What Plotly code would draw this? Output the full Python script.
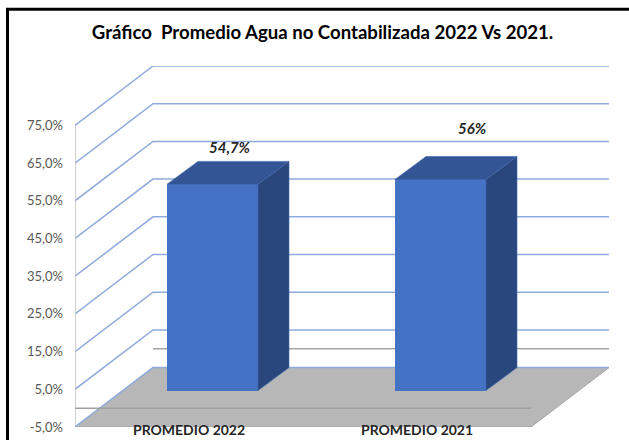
import plotly.graph_objects as go

title = "Gráfico  Promedio Agua no Contabilizada 2022 Vs 2021."
categories = ["PROMEDIO 2022", "PROMEDIO 2021"]
values = [54.7, 56.0]
value_labels = ["54,7%", "56%"]
tick_values = [-5, 5, 15, 25, 35, 45, 55, 65, 75]
tick_labels = ["-5,0%", "5,0%", "15,0%", "25,0%", "35,0%", "45,0%", "55,0%", "65,0%", "75,0%"]

W, H = 629, 440
L, R, T, B = 75, 609, 65.7, 427.2
PX_PER_UNIT = 37.75 / 10
PX_PER_CAT = 228.0
DX = 78 / PX_PER_CAT      # wall depth in category units
DY = 59.5 / PX_PER_UNIT   # wall depth in value units
BAR_W = 91 / PX_PER_CAT
BAR_DX = 31 / PX_PER_CAT
BAR_DY = 23 / PX_PER_UNIT
BAR_SHIFT_X = 23.5 / PX_PER_CAT
BAR_BASE = -5 + 36.5 / PX_PER_UNIT
YMIN, YMAX = -5, -5 + (B - T) / PX_PER_UNIT
XMAX = (R - L) / PX_PER_CAT
FRONT_R = 2.0

BLUE = "#8faadc"
GREY = "#b7b7b7"
LINE_GREY = "#a6a6a6"

shapes = []


def seg(xs, ys, color, width=1.5):
    d = "M " + " L ".join(f"{x},{y}" for x, y in zip(xs, ys))
    shapes.append(dict(type="path", path=d, xref="x", yref="y", layer="below",
                       line=dict(color=color, width=width)))


# gridlines on the side wall and the back wall
for v in tick_values[1:]:
    seg([0, DX, FRONT_R + DX], [v, v + DY, v + DY], BLUE)
seg([DX, FRONT_R + DX], [DY, DY], LINE_GREY)

# value axis
seg([0, 0], [tick_values[0], tick_values[-1]], "#bfbfbf", 1.5)

# floor
shapes.append(dict(type="path", xref="x", yref="y", layer="below",
                   path=f"M 0,{YMIN} L {DX},{YMIN + DY} L {FRONT_R + DX},{YMIN + DY} L {FRONT_R},{YMIN} Z",
                   fillcolor=GREY, line=dict(width=0)))
seg([0, DX, FRONT_R + DX], [YMIN, YMIN + DY, YMIN + DY], BLUE)
seg([FRONT_R, FRONT_R + DX], [YMIN, YMIN + DY], "#a6a6a6", 1)
seg([0, FRONT_R], [YMIN, YMIN], "#a6a6a6", 1)
seg([0, FRONT_R], [0, 0], "#a0a0a0", 1.5)


# frame: left and top edges only, in pixels
def px(x):
    return (x - L) / (R - L)


def py(y):
    return (B - y) / (B - T)


for x0, y0, x1, y1 in [(7.5, 8.8, 7.5, H + 5), (6, 8.8, W + 5, 8.8)]:
    shapes.append(dict(type="line", xref="paper", yref="paper", x0=px(x0), x1=px(x1), y0=py(y0), y1=py(y1),
                       layer="above", line=dict(color="black", width=3)))

fig = go.Figure()

centres = [i + 0.5 + BAR_SHIFT_X for i in range(len(values))]
fig.add_trace(go.Bar(x=centres, y=values, base=[BAR_BASE] * len(values), width=BAR_W,
                     marker=dict(color="#4472c4", line=dict(width=0)),
                     hoverinfo="skip", showlegend=False))


def poly(xs, ys, fill, line):
    fig.add_trace(go.Scatter(x=xs, y=ys, mode="lines", fill="toself", fillcolor=fill,
                             line=dict(color=line, width=0.6), hoverinfo="skip", showlegend=False))


for c, v in zip(centres, values):
    x0, x1 = c - BAR_W / 2, c + BAR_W / 2
    top = BAR_BASE + v
    poly([x0, x1, x1 + BAR_DX, x0 + BAR_DX, x0], [top, top, top + BAR_DY, top + BAR_DY, top], "#335593", "#3f68b0")
    poly([x1, x1 + BAR_DX, x1 + BAR_DX, x1, x1],
         [BAR_BASE, BAR_BASE + BAR_DY, top + BAR_DY, top, BAR_BASE], "#29477d", "#3f68b0")

# value labels (placed by hand in the original chart)
label_lift = [37.5 / PX_PER_UNIT, 51.6 / PX_PER_UNIT]
label_nudge = [2 / PX_PER_CAT, 16 / PX_PER_CAT]
for c, v, t, lift, nudge in zip(centres, values, value_labels, label_lift, label_nudge):
    fig.add_annotation(x=c + BAR_DX / 2 + nudge, y=BAR_BASE + v + lift, text=f"<b><i>{t}</i></b>", showarrow=False,
                       font=dict(family="Lato", size=15, color="#262626"), xanchor="center", yanchor="middle")

# category labels
for i, name in enumerate(categories):
    fig.add_annotation(x=i + 0.5, y=YMIN, text=f"<b>{name}</b>", showarrow=False, yshift=-2,
                       font=dict(family="Lato", size=14, color="#262626"), xanchor="center", yanchor="middle")

fig.update_layout(
    width=W, height=H, autosize=False,
    margin=dict(l=L, r=W - R, t=T, b=H - B, pad=0),
    paper_bgcolor="white", plot_bgcolor="rgba(0,0,0,0)",
    showlegend=False, bargap=0,
    title=dict(text=f"<b>{title}</b>", x=322.5 / W, xanchor="center", y=1 - 32.5 / H, yanchor="middle",
               font=dict(family="Lato", size=18.6, color="#000000")),
    xaxis=dict(range=[0, XMAX], visible=False, fixedrange=True),
    yaxis=dict(range=[YMIN, YMAX], tickmode="array", tickvals=tick_values, ticktext=tick_labels,
               showgrid=False, zeroline=False, showline=False, ticks="", ticklabelstandoff=11,
               automargin=False, tickfont=dict(family="Lato", size=13, color="#595959"), fixedrange=True),
    shapes=shapes,
)
fig.write_html("out.html", config={"displayModeBar": False},
               post_script="document.body.style.margin='0';document.documentElement.style.overflow='hidden';")
